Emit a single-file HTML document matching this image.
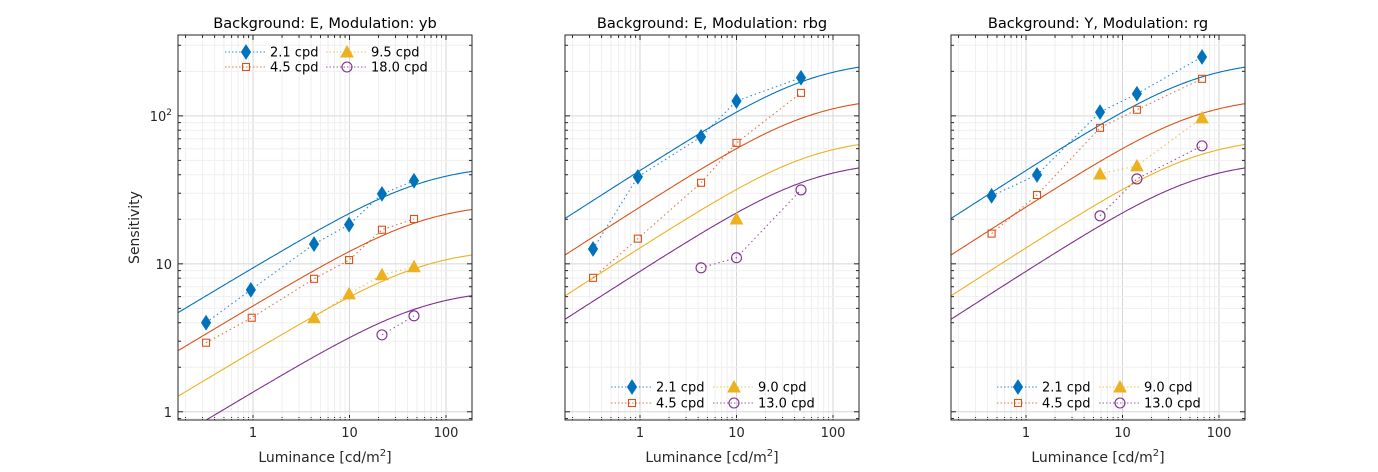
<!DOCTYPE html>
<html><head><meta charset="utf-8"><style>
body{margin:0;background:#fff;}
svg{display:block;font-family:"DejaVu Sans","Liberation Sans",sans-serif;}
</style></head><body>
<svg id="chart" width="1378" height="472" viewBox="0 0 1378 472" xmlns="http://www.w3.org/2000/svg"></svg>
<script>
// ---- data ----
const panelTitles = ["Background: E, Modulation: yb","Background: E, Modulation: rbg","Background: Y, Modulation: rg"];
const legendLabels = [["2.1 cpd","4.5 cpd","9.5 cpd","18.0 cpd"],["2.1 cpd","4.5 cpd","9.0 cpd","13.0 cpd"],["2.1 cpd","4.5 cpd","9.0 cpd","13.0 cpd"]];
const xTicks = [1,10,100];
const xTickLabels = ["1","10","100"];
const yTicks = [1,10,100];
// model curve parameters: max sensitivity per series per panel
const curveSmax = [[47,26,12.8,6.8],[240,136,72,50],[240,136,72,50]];
const curveExpByPanel = [0.392,0.42,0.42];
const curveL0 = 60;
// measured data: luminance / sensitivity per series
const p1Lum = [[0.326,0.95,4.29,9.9,21.7,46.6],[0.326,0.97,4.29,9.9,21.7,46.6],[4.29,9.9,21.7,46.6],[21.7,46.6]];
const p1Sens = [[4.0,6.67,13.6,18.4,29.7,36.4],[2.93,4.32,7.92,10.6,17.0,20.1],[4.32,6.27,8.43,9.55],[3.31,4.45]];
const p2Lum = [[0.326,0.95,4.29,10,46.6],[0.326,0.95,4.29,10,46.6],[10],[4.29,10,46.6]];
const p2Sens = [[12.6,38.7,72.1,126,181],[8.04,14.8,35.3,65.7,143],[20.1],[9.4,11.0,31.6]];
const p3Lum = [[0.44,1.3,5.85,14.1,66.7],[0.44,1.3,5.85,14.1,66.7],[5.85,14.1,66.7],[5.85,14.1,66.7]];
const p3Sens = [[28.8,39.9,106,141,250],[16,29.2,83,110,178],[40.5,45.9,97],[21.1,37.5,62.7]];
const colors = ["#0072BD","#D95319","#EDB120","#7E2F8E"];
const markers = ["diamond","square","triangle","circle"];

const NS="http://www.w3.org/2000/svg";
const svg=document.getElementById('chart');
function el(tag,attrs,parent){const e=document.createElementNS(NS,tag);for(const k in attrs)e.setAttribute(k,attrs[k]);(parent||svg).appendChild(e);return e;}
const lefts=[178,565,951], W=294, TOP=35, BOT=420;
const xmin=Math.log10(0.167), xmax=Math.log10(186), ymin=Math.log10(0.88), ymax=Math.log10(352);
const datasets=[[p1Lum,p1Sens],[p2Lum,p2Sens],[p3Lum,p3Sens]];

function drawMarker(g,type,cx,cy,c){
  let m;
  if(type==="diamond") m=el('polygon',{points:`${cx},${cy-7} ${cx+4.5},${cy} ${cx},${cy+7} ${cx-4.5},${cy}`,fill:c,stroke:c},g);
  else if(type==="square") m=el('rect',{x:cx-3.5,y:cy-3.5,width:7,height:7,fill:'none',stroke:c,'stroke-width':1.1},g);
  else if(type==="triangle") m=el('polygon',{points:`${cx},${cy-6} ${cx+6},${cy+5} ${cx-6},${cy+5}`,fill:c,stroke:c},g);
  else m=el('circle',{cx:cx,cy:cy,r:5,fill:'none',stroke:c,'stroke-width':1.1},g);
  return m;
}

for(let p=0;p<3;p++){
  const L=lefts[p];
  const X=v=>L+(Math.log10(v)-xmin)/(xmax-xmin)*W;
  const Y=v=>BOT-(Math.log10(v)-ymin)/(ymax-ymin)*(BOT-TOP);
  const g=el('g',{});
  
  
  el('rect',{x:L,y:TOP,width:W,height:BOT-TOP,fill:'#fff'},g);
  const gg=el('g',{},g);
  
  
  for(let d=-1;d<=2;d++)for(let k=1;k<10;k++){const v=k*Math.pow(10,d);const x=X(v);if(x<=L||x>=L+W)continue;
    el('line',{x1:x,x2:x,y1:TOP,y2:BOT,stroke:k===1?'#d6d6d6':'#efefef','stroke-width':1},gg);
    el('line',{x1:x,x2:x,y1:BOT,y2:BOT-(k===1?5:3),stroke:'#262626'},gg);
    el('line',{x1:x,x2:x,y1:TOP,y2:TOP+(k===1?5:3),stroke:'#262626'},gg);}
  for(let d=-1;d<=2;d++)for(let k=1;k<10;k++){const v=k*Math.pow(10,d);const y=Y(v);if(y<=TOP||y>=BOT)continue;
    el('line',{x1:L,x2:L+W,y1:y,y2:y,stroke:k===1?'#d6d6d6':'#efefef','stroke-width':1},gg);
    el('line',{x1:L,x2:L+(k===1?5:3),y1:y,y2:y,stroke:'#262626'},gg);
    el('line',{x1:L+W,x2:L+W-(k===1?5:3),y1:y,y2:y,stroke:'#262626'},gg);}
  const cp=el('clipPath',{id:'clip'+p},g);el('rect',{x:L,y:TOP,width:W,height:BOT-TOP},cp);
  for(let s=0;s<4;s++){
    let d='';
    for(let i=0;i<=200;i++){const lx=xmin+(xmax-xmin)*i/200;const lum=Math.pow(10,lx);
      const S=curveSmax[p][s]*Math.pow(lum/(lum+curveL0),curveExpByPanel[p]);
      d+=(i?'L':'M')+X(lum).toFixed(1)+','+Y(S).toFixed(1);}
    const c=el('path',{d:d,fill:'none',stroke:colors[s],'stroke-width':1.1,'clip-path':'url(#clip'+p+')'},g);
    
    
  }
  const [lum,sens]=datasets[p];
  for(let s=0;s<4;s++){
    const sg=el('g',{},g);
    
    
    const pts=lum[s].map((v,i)=>X(v).toFixed(1)+','+Y(sens[s][i]).toFixed(1)).join(' ');
    el('polyline',{points:pts,fill:'none',stroke:colors[s],'stroke-width':1.1,'stroke-dasharray':'1.5,3','stroke-opacity':0.8},sg);
    lum[s].forEach((v,i)=>{const m=drawMarker(sg,markers[s],X(v),Y(sens[s][i]),colors[s]);
      
      });
  }
  el('rect',{x:L,y:TOP,width:W,height:BOT-TOP,fill:'none',stroke:'#262626','stroke-width':1},g);
  xTicks.forEach((v,i)=>{const t=el('text',{x:X(v),y:BOT+17,'font-size':13,fill:'#262626','text-anchor':'middle'},g);t.textContent=xTickLabels[i];
    
    });
  const xl=el('text',{x:L+W/2,y:462,'font-size':14,fill:'#262626','text-anchor':'middle'},g);
  xl.innerHTML='Luminance [cd/m<tspan dy="-6" font-size="10">2</tspan><tspan dy="6">]</tspan>';
  
  
  const tt=el('text',{x:L+W/2,y:28,'font-size':14.6,fill:'#000','text-anchor':'middle'},g);tt.textContent=panelTitles[p];
  
  
  if(p===0){
    yTicks.forEach((v,i)=>{const y=Y(v);const t=el('text',{x:L-6,y:y+5,'font-size':13,fill:'#262626','text-anchor':'end'},g);
      if(i===2)t.innerHTML='10<tspan dy="-6" font-size="9">2</tspan>';else t.textContent=String(v);
      
      });
    const yl=el('text',{x:0,y:0,'font-size':14,fill:'#262626','text-anchor':'middle',transform:`translate(139,${(TOP+BOT)/2}) rotate(-90)`},g);
    yl.textContent='Sensitivity';
    
    
  }
  const lg=el('g',{},g);
  
  
  const ly=p===0?[52,67]:[387,403];
  const mx=p===0?[246,347]:[L+67,L+169];
  const order=[[0,0,0],[1,0,1],[2,1,0],[3,1,1]];
  order.forEach(([s,col,row])=>{
    const e=el('g',{},lg);
    
    
    const cx=mx[col],cy=ly[row];
    el('line',{x1:cx-21,x2:cx+21,y1:cy,y2:cy,stroke:colors[s],'stroke-dasharray':'1.5,2','stroke-opacity':0.8},e);
    drawMarker(e,markers[s],cx,cy,colors[s]);
    const t=el('text',{x:cx+24,y:cy+4.5,'font-size':13,fill:'#000'},e);t.textContent=legendLabels[p][s];
  });
}
</script>
</body></html>
